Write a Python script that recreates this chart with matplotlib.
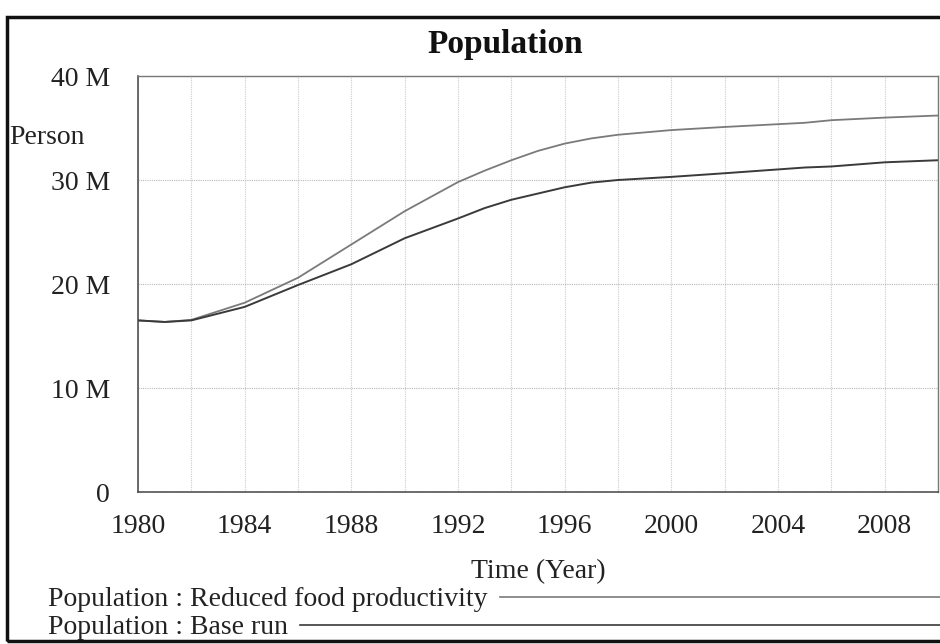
import matplotlib
matplotlib.use("Agg")
import matplotlib.pyplot as plt
from matplotlib.lines import Line2D
from matplotlib.patches import Rectangle
from matplotlib.ticker import MultipleLocator

plt.rcParams['font.family'] = ['Liberation Serif', 'DejaVu Serif']

# ---- data (millions of persons) ----
years_reduced = [1980, 1981, 1982, 1984, 1986, 1988, 1990, 1992, 1993, 1994, 1995,
                 1996, 1997, 1998, 2000, 2002, 2005, 2006, 2008, 2010]
pop_reduced = [16.5, 16.35, 16.55, 18.2, 20.6, 23.8, 27.0, 29.8, 30.9, 31.9, 32.8,
               33.5, 34.0, 34.35, 34.8, 35.1, 35.5, 35.75, 36.0, 36.2]

years_base = [1980, 1981, 1982, 1984, 1986, 1988, 1990, 1992, 1993, 1994, 1995,
              1996, 1997, 1998, 2000, 2002, 2005, 2006, 2008, 2010]
pop_base = [16.5, 16.35, 16.5, 17.8, 19.9, 21.9, 24.4, 26.3, 27.3, 28.1, 28.7,
            29.3, 29.75, 30.0, 30.3, 30.65, 31.2, 31.3, 31.7, 31.9]

x_ticks = [1980, 1984, 1988, 1992, 1996, 2000, 2004, 2008]
y_ticks = [0, 10, 20, 30, 40]
y_tick_labels = ["0", "10 M", "20 M", "30 M", "40 M"]

series_labels = ["Population : Reduced food productivity", "Population : Base run"]
series_colors = ["#7a7a7a", "#3a3a3a"]

W, H = 940, 644
fig = plt.figure(figsize=(W / 100, H / 100), dpi=100)

def fx(px):
    return px / W

def fy(py):
    return 1 - py / H

ax = fig.add_axes([fx(138), fy(492), fx(938) - fx(138), fy(76) - fy(492)])

ax.plot(years_reduced, pop_reduced, color=series_colors[0], lw=1.3)
ax.plot(years_base, pop_base, color=series_colors[1], lw=1.4)

ax.set_xlim(1980, 2010)
ax.set_ylim(0, 40)
ax.set_xticks(x_ticks)
ax.set_yticks(y_ticks)
ax.set_yticklabels(y_tick_labels)
ax.xaxis.set_minor_locator(MultipleLocator(2))
ax.tick_params(axis='both', which='both', length=0, labelsize=20, colors='#222222')
ax.tick_params(axis='x', pad=16)
ax.tick_params(axis='y', pad=20)

ax.grid(True, which='both', axis='x', color='#cccccc', lw=0.8, ls=(0, (1, 1)))
ax.grid(True, which='major', axis='y', color='#b8b8b8', lw=0.8, ls=(0, (1, 1)))
ax.set_axisbelow(True)

for side in ['left', 'bottom']:
    ax.spines[side].set_color('#444444')
    ax.spines[side].set_linewidth(1.1)
for side in ['top', 'right']:
    ax.spines[side].set_color('#777777')
    ax.spines[side].set_linewidth(1.0)

ax.set_xlabel("Time (Year)", fontsize=20, labelpad=14, color='#222222')

# title and unit label
fig.text(fx(505), fy(45), "Population", ha='center', va='center',
         fontsize=24, fontweight='bold', color='#111111')
fig.text(fx(9), fy(137), "Person", ha='left', va='center', fontsize=20, color='#222222')

# legend (Vensim style)
leg_rows = [(600, 500), (628, 300)]
for (ty, lx), lab, col in zip(leg_rows, series_labels, series_colors):
    fig.text(fx(48), fy(ty), lab, ha='left', va='center', fontsize=20, color='#222222')
    fig.add_artist(Line2D([fx(lx), fx(945)], [fy(ty - 3), fy(ty - 3)],
                          transform=fig.transFigure, color=col, lw=1.2))

# outer frame
fig.add_artist(Rectangle((fx(7), fy(641)), fx(960) - fx(7), fy(17) - fy(641),
                         transform=fig.transFigure, fill=False,
                         edgecolor='#111111', lw=2.5))

fig.savefig("out.png", dpi=100)
